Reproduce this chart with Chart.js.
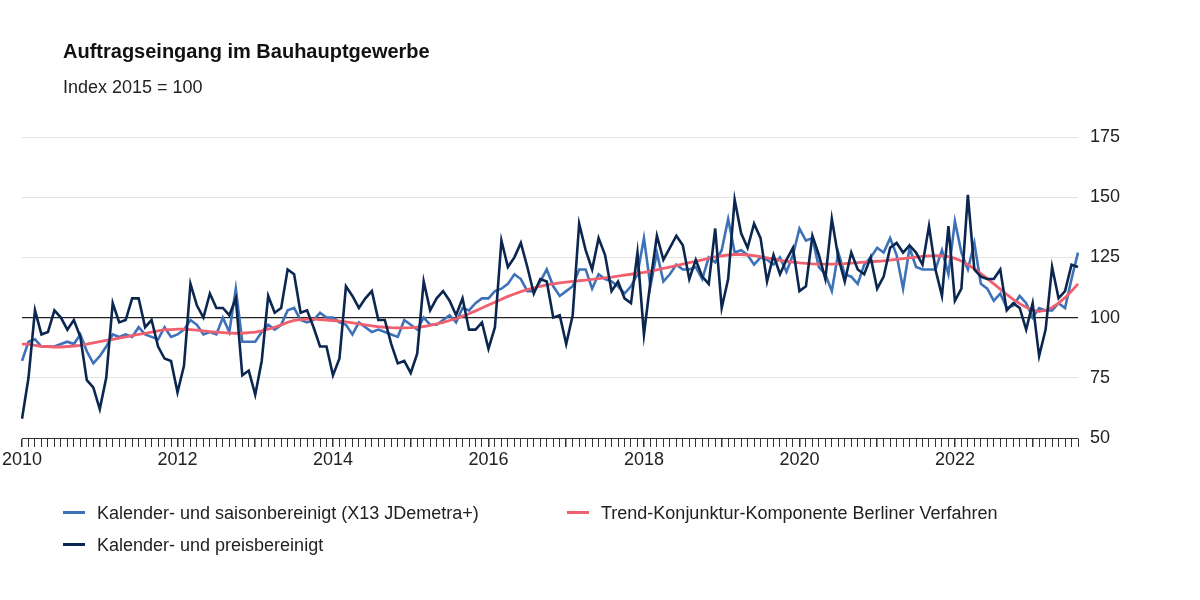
<!DOCTYPE html>
<html><head><meta charset="utf-8">
<script src="https://cdn.jsdelivr.net/npm/chart.js@4"></script>
<style>
body{margin:0;background:#fff;font-family:"Liberation Sans",Arial,sans-serif;}
#wrap{position:relative;width:1200px;height:600px;}
canvas{position:absolute;left:0;top:0;}
.t{position:absolute;left:63px;top:40px;font-size:20px;font-weight:bold;color:#111;}
.s{position:absolute;left:63px;top:77px;font-size:18px;color:#222;}
.lg{position:absolute;font-size:18px;color:#222;}
.lg i{display:inline-block;width:22px;height:3px;vertical-align:middle;margin-right:12px;position:relative;top:-2px;}
</style></head><body>
<div id="wrap">
<canvas id="c" width="1200" height="600"></canvas>
<div class="t">Auftragseingang im Bauhauptgewerbe</div>
<div class="s">Index 2015 = 100</div>
<div class="lg" style="left:63px;top:503px"><i style="background:#3d72b9"></i>Kalender- und saisonbereinigt (X13 JDemetra+)</div>
<div class="lg" style="left:567px;top:503px"><i style="background:#f0606e"></i>Trend-Konjunktur-Komponente Berliner Verfahren</div>
<div class="lg" style="left:63px;top:535px"><i style="background:#0b2750"></i>Kalender- und preisbereinigt</div>
</div>
<script>
const months = [];
for (let y = 2010; y <= 2023; y++) {
  for (let m = 1; m <= 12; m++) {
    if (y === 2023 && m > 8) break;
    months.push(y + '-' + String(m).padStart(2, '0'));
  }
}

const preisbereinigt = [
  58,75,103,93,94,103,100,95,99,92,74,71,
  62,75,106,98,99,108,108,96,99,88,83,82,
  69,80,114,105,100,110,104,104,101,108,76,78,
  68,82,109,102,104,120,118,102,103,96,88,88,
  76,83,113,109,104,108,111,99,99,89,81,82,
  77,85,115,103,108,111,107,101,108,95,95,98,
  87,96,132,121,125,131,121,110,116,115,100,101,
  89,101,139,128,120,133,126,111,115,108,106,127,
  93,115,134,124,129,134,130,116,124,117,114,137,
  104,116,149,135,129,139,133,115,126,118,124,129,
  111,113,134,126,116,141,125,115,127,120,118,125,
  112,117,129,131,127,130,127,122,138,120,109,138,
  107,112,151,120,117,116,116,120,103,106,104,95,
  106,84,95,121,108,111,122,121
];
const saisonbereinigt = [
  82,90,91,88,88,88,89,90,89,93,86,81,
  84,88,93,92,93,92,96,93,92,91,96,92,
  93,95,99,97,93,94,93,100,94,112,90,90,
  90,94,97,95,97,103,104,99,98,99,102,100,
  100,98,97,93,98,96,94,95,94,93,92,99,
  97,95,100,97,97,99,101,98,104,103,106,108,
  108,111,112,114,118,116,111,111,115,120,113,109,
  111,113,120,120,112,118,116,115,113,110,113,118,
  133,113,127,115,118,122,120,120,121,116,125,123,
  128,141,127,128,126,122,125,124,122,125,119,126,
  137,132,133,121,118,111,127,118,117,114,122,125,
  129,127,133,126,112,129,121,120,120,120,128,118,
  140,127,120,131,114,112,107,110,104,105,109,106,
  100,104,103,103,106,104,116,127
];
const trend = [
  89,89,88.5,88,88,87.8,87.8,88,88.2,88.5,89,89.5,
  90,90.5,91,91.5,92,92.5,93,93.5,94,94.5,95,95,
  95.2,95.2,95,94.8,94.5,94.2,94,93.8,93.6,93.5,93.5,93.8,
  94,94.5,95.2,96,97,98,98.8,99.2,99.4,99.4,99.2,99,
  98.8,98.5,98.2,97.8,97.4,97,96.6,96.2,96,95.8,95.7,95.7,
  95.8,96,96.3,96.8,97.4,98,98.8,99.6,100.6,101.6,102.8,104,
  105.2,106.4,107.6,108.8,109.8,110.8,111.6,112.4,113,113.6,114,114.4,
  114.7,115,115.3,115.6,115.9,116.2,116.5,116.8,117.2,117.6,118,118.4,
  118.8,119.3,119.8,120.4,121,121.6,122.2,122.8,123.4,124,124.6,125.2,
  125.6,126,126.2,126.2,126,125.7,125.3,124.8,124.3,123.8,123.4,123,
  122.7,122.5,122.3,122.2,122.2,122.2,122.3,122.4,122.6,122.8,123,123.2,
  123.4,123.6,123.9,124.2,124.5,124.8,125.1,125.4,125.6,125.7,125.6,125.3,
  124.6,123.5,122,120.3,118.3,116.2,114,111.8,109.6,107.6,105.8,104.3,
  103,102.6,103,104.2,106,108.3,111,114
];
const yTicks = [50, 75, 100, 125, 150, 175];

const font = { family: '"Liberation Sans", Arial, sans-serif', size: 18 };
const line = (data, color, w) => ({ data, borderColor: color, borderWidth: w, pointRadius: 0, tension: 0, fill: false });

new Chart(document.getElementById('c'), {
  type: 'line',
  data: {
    labels: months,
    datasets: [
      line(preisbereinigt, '#0b2750', 2.6),
      line(trend, '#f0606e', 2.8),
      line(saisonbereinigt, '#3d72b9', 2.6)
    ]
  },
  options: {
    responsive: false,
    animation: false,
    layout: { padding: { left: 22, right: 20, top: 137, bottom: 120 } },
    plugins: { legend: { display: false }, tooltip: { enabled: false } },
    scales: {
      x: {
        offset: false,
        grid: { drawOnChartArea: false, color: '#333', tickLength: 9,
          lineWidth: ctx => (ctx.index % 12 === 0 ? 1.5 : 1) },
        border: { color: '#333' },
        afterFit: s => { s.height = 42; },
        ticks: {
          autoSkip: false, maxRotation: 0, color: '#222', font, padding: 2,
          callback: (v, i) => {
            const [y, m] = months[i].split('-');
            return (m === '01' && +y % 2 === 0) ? y : '';
          }
        }
      },
      y: {
        position: 'right', min: 50, max: 175,
        afterBuildTicks: s => { s.ticks = yTicks.map(v => ({ value: v })); },
        afterFit: s => { s.width = 102; },
        border: { display: false },
        grid: { drawTicks: false, color: ctx => (ctx.tick.value === 100 ? '#222' : '#e3e3e3'),
          lineWidth: ctx => (ctx.tick.value === 100 ? 1.2 : 1) },
        ticks: { color: '#222', font, padding: 12 }
      }
    }
  }
});
</script>
</body></html>
